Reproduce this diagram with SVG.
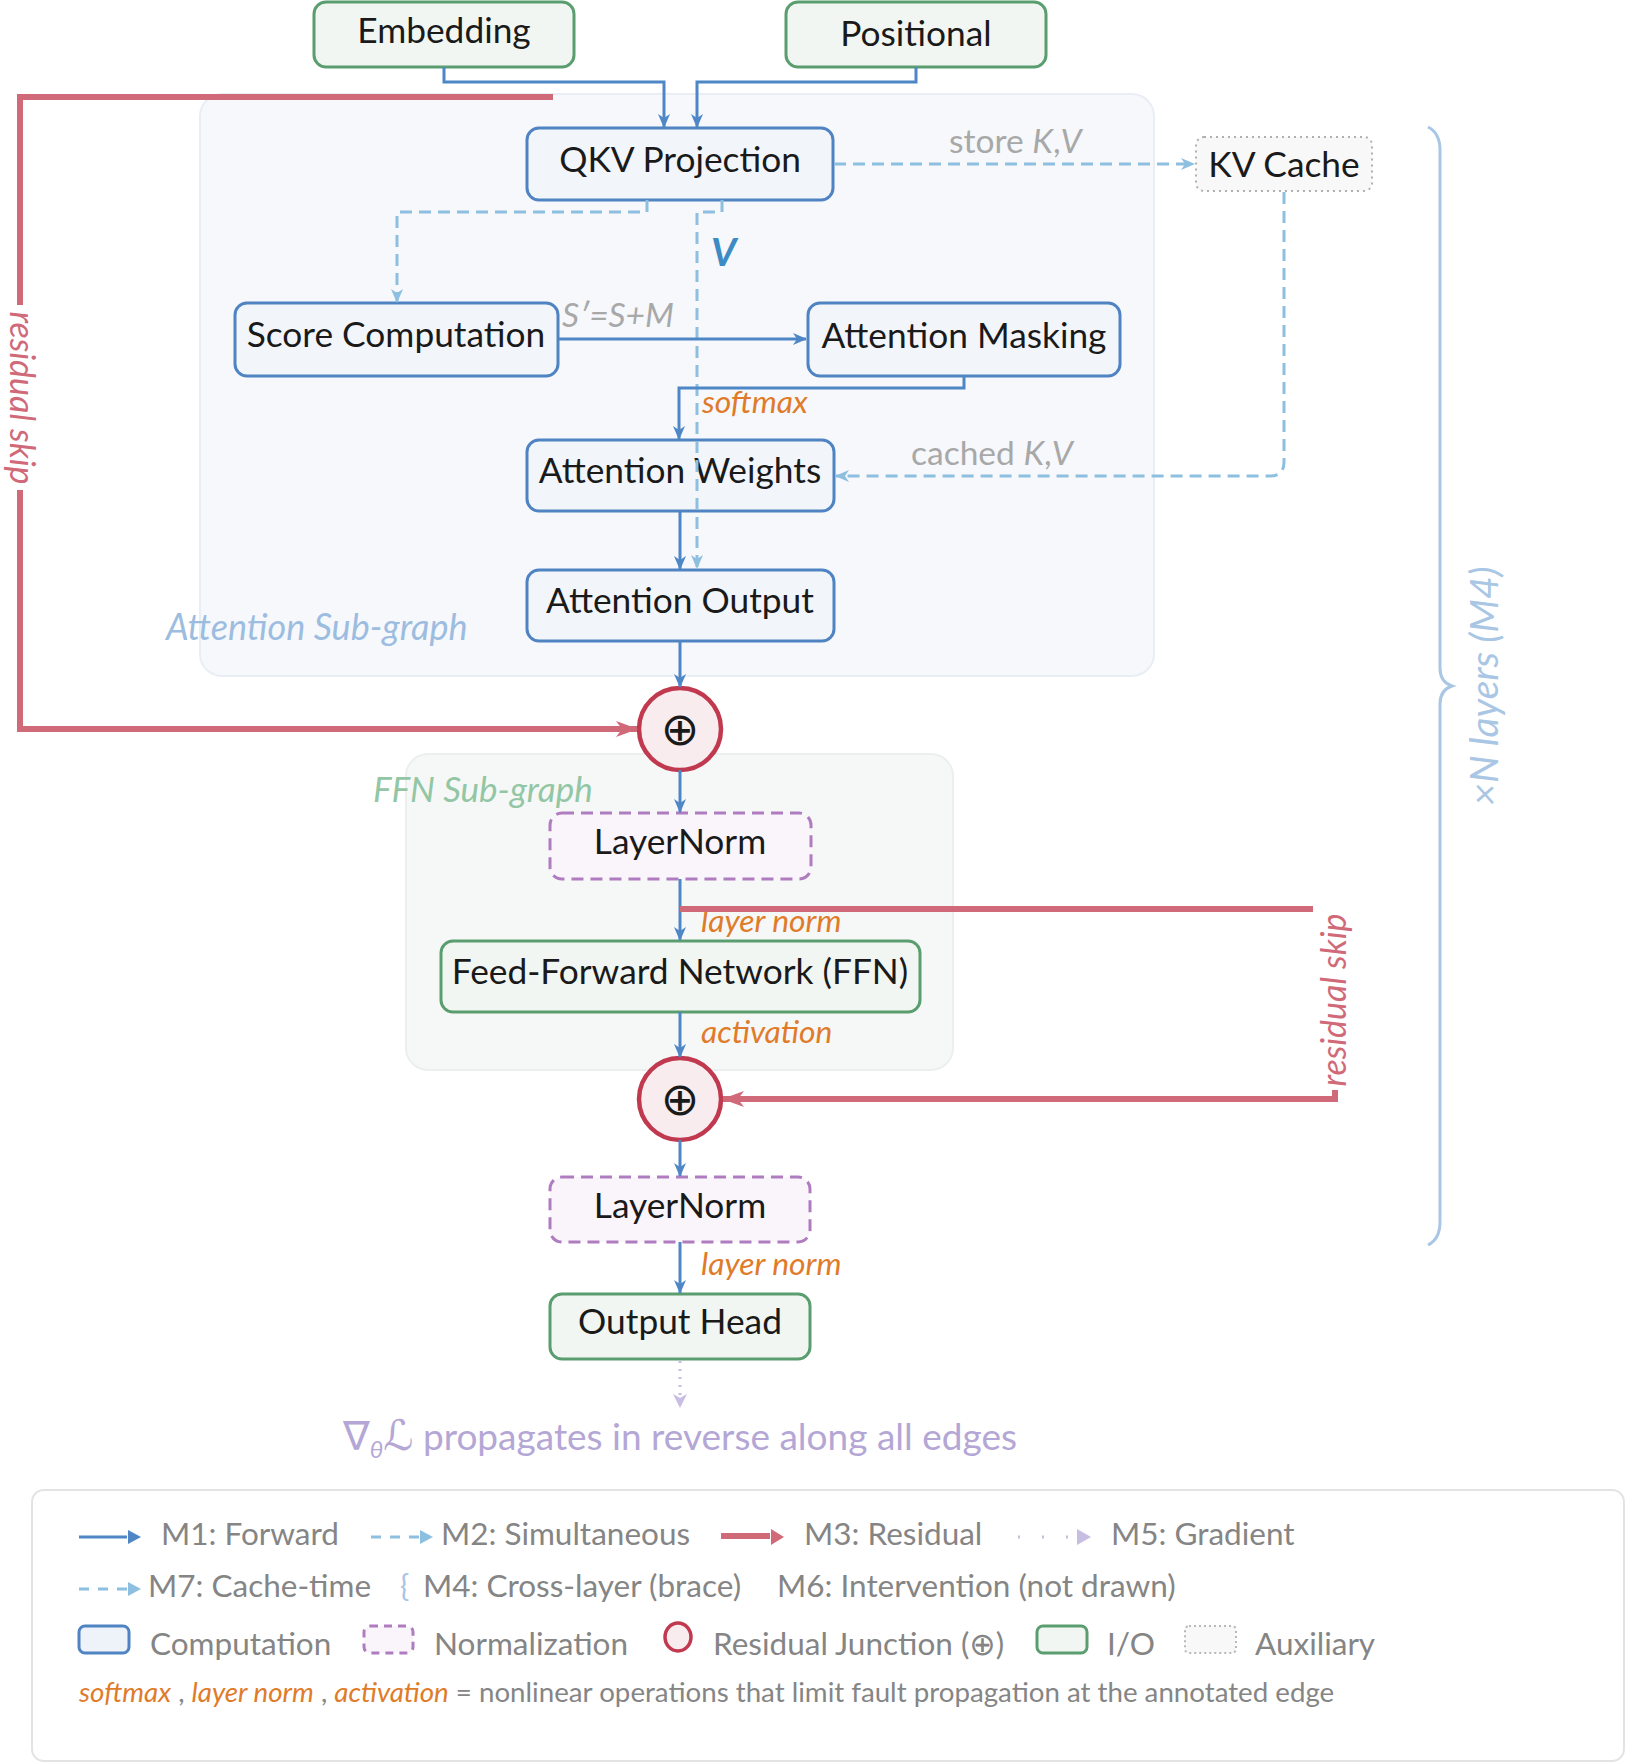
<svg xmlns="http://www.w3.org/2000/svg" width="1627" height="1763" viewBox="0 0 1627 1763">
  <defs>
    <style>
      .lbl { font-family: "Lato", "Liberation Sans", "DejaVu Sans", sans-serif; }
      .node-text { font-size: 35.3px; fill: #1a1a1a; text-anchor: middle; }
      .comp { fill: #f2f6fb; stroke: #4f83c2; stroke-width: 3; }
      .io { fill: #f1f6f2; stroke: #5a9e6f; stroke-width: 3; }
      .norm { fill: #faf5fa; stroke: #b07cc0; stroke-width: 3; stroke-dasharray: 12 7; }
      .aux { fill: #f8f8f8; stroke: #b0b0b0; stroke-width: 2; stroke-dasharray: 2 4; }
      .junc { fill: #f8ecee; stroke: #c0394f; stroke-width: 4.5; }
      .oplus { font-family: "DejaVu Sans", sans-serif; font-size: 46px; fill: #1a1a1a; text-anchor: middle; }
      .fwd { fill: none; stroke: #4f86c6; stroke-width: 3; }
      .sim { fill: none; stroke: #8dbfe0; stroke-width: 3; stroke-dasharray: 12 7; }
      .res { fill: none; stroke: #d06a78; stroke-width: 6; }
      .grad { fill: none; stroke: #c8bde3; stroke-width: 3; stroke-dasharray: 2 6; }
      .nl { font-size: 31.8px; font-style: italic; fill: #e07b2a; }
      .gray { font-size: 33.5px; fill: #a8a8a8; }
      .leg { font-size: 31.5px; fill: #858585; }
    </style>
    <marker id="ahBlue" markerUnits="userSpaceOnUse" markerWidth="14" markerHeight="12" refX="13" refY="6" orient="auto">
      <path d="M0,0 L14,6 L0,12 L4,6 z" fill="#4f86c6"/>
    </marker>
    <marker id="ahLight" markerUnits="userSpaceOnUse" markerWidth="14" markerHeight="12" refX="13" refY="6" orient="auto">
      <path d="M0,0 L14,6 L0,12 L4,6 z" fill="#8dbfe0"/>
    </marker>
    <marker id="ahRed" markerUnits="userSpaceOnUse" markerWidth="22" markerHeight="16" refX="21" refY="8" orient="auto">
      <path d="M0,0 L22,8 L0,16 L6,8 z" fill="#d06a78"/>
    </marker>
    <marker id="ahGrad" markerUnits="userSpaceOnUse" markerWidth="14" markerHeight="14" refX="13" refY="7" orient="auto">
      <path d="M0,0 L14,7 L0,14 L4,7 z" fill="#c8bde3"/>
    </marker>
  </defs>

  <rect width="1627" height="1763" fill="#ffffff"/>

  <!-- sub-graph backgrounds -->
  <g id="attention-subgraph">
    <rect x="200" y="94" width="954" height="582" rx="22" fill="#f6f8fc" stroke="#e9eef5" stroke-width="2"/>
    <text class="lbl" x="166" y="640" font-size="36" font-style="italic" fill="#9dbde0">Attention Sub-graph</text>
  </g>
  <g id="ffn-subgraph">
    <rect x="406" y="754" width="547" height="316" rx="22" fill="#f6f8f7" stroke="#ebefed" stroke-width="2"/>
    <text class="lbl" x="373" y="802" font-size="35" font-style="italic" fill="#93c6a4">FFN Sub-graph</text>
  </g>

  <!-- nodes -->
  <g id="embedding">
    <rect class="io" x="314" y="2" width="260" height="65" rx="12"/>
    <text class="lbl node-text" x="444" y="43">Embedding</text>
  </g>
  <g id="positional">
    <rect class="io" x="786" y="2" width="260" height="65" rx="12"/>
    <text class="lbl node-text" x="916" y="46">Positional</text>
  </g>
  <g id="qkv-projection">
    <rect class="comp" x="527" y="128" width="306" height="72" rx="12"/>
    <text class="lbl node-text" x="680" y="172">QKV Projection</text>
  </g>
  <g id="kv-cache">
    <rect class="aux" x="1196" y="137" width="176" height="54" rx="8"/>
    <text class="lbl node-text" x="1284" y="177">KV Cache</text>
  </g>
  <g id="score-computation">
    <rect class="comp" x="235" y="303" width="323" height="73" rx="12"/>
    <text class="lbl node-text" x="396" y="347">Score Computation</text>
  </g>
  <g id="attention-masking">
    <rect class="comp" x="808" y="303" width="312" height="73" rx="12"/>
    <text class="lbl node-text" x="964" y="348">Attention Masking</text>
  </g>
  <g id="attention-weights">
    <rect class="comp" x="527" y="440" width="307" height="71" rx="12"/>
    <text class="lbl node-text" x="680" y="483">Attention Weights</text>
  </g>
  <g id="attention-output">
    <rect class="comp" x="527" y="570" width="307" height="71" rx="12"/>
    <text class="lbl node-text" x="680" y="613">Attention Output</text>
  </g>
  <g id="junction-1">
    <ellipse class="junc" cx="680" cy="729" rx="41" ry="41"/>
    <text class="oplus" x="680" y="745">⊕</text>
  </g>
  <g id="layernorm-1">
    <rect class="norm" x="550" y="813" width="261" height="66" rx="12"/>
    <text class="lbl node-text" x="680" y="854">LayerNorm</text>
  </g>
  <g id="ffn">
    <rect class="io" x="441" y="941" width="479" height="71" rx="12"/>
    <text class="lbl node-text" x="680" y="984">Feed-Forward Network (FFN)</text>
  </g>
  <g id="junction-2">
    <ellipse class="junc" cx="680" cy="1099" rx="41" ry="41"/>
    <text class="oplus" x="680" y="1115">⊕</text>
  </g>
  <g id="layernorm-2">
    <rect class="norm" x="550" y="1177" width="260" height="65" rx="12"/>
    <text class="lbl node-text" x="680" y="1218">LayerNorm</text>
  </g>
  <g id="output-head">
    <rect class="io" x="550" y="1294" width="260" height="65" rx="12"/>
    <text class="lbl node-text" x="680" y="1334">Output Head</text>
  </g>

  <!-- connectors -->
  <g id="connectors">
    <!-- inputs into QKV -->
    <path class="fwd" d="M444,67 V82 H664 V127" marker-end="url(#ahBlue)"/>
    <path class="fwd" d="M916,67 V82 H697 V127" marker-end="url(#ahBlue)"/>

    <!-- simultaneous Q/K and V branches -->
    <path class="sim" d="M647,200 V212 H397 V302" marker-end="url(#ahLight)"/>
    <path class="sim" d="M722,200 V212 H697 V568" marker-end="url(#ahLight)"/>
    <text class="lbl" x="711" y="266" font-size="39" font-weight="bold" font-style="italic" fill="#3d8bc4">V</text>

    <!-- cache store / read -->
    <path class="sim" d="M834,164 H1194" marker-end="url(#ahLight)"/>
    <text class="lbl gray" x="949" y="153">store <tspan font-style="italic">K</tspan>,<tspan font-style="italic">V</tspan></text>
    <path class="sim" d="M1284,192 V462 Q1284,476 1270,476 H836" marker-end="url(#ahLight)"/>
    <text class="lbl gray" x="911" y="465">cached <tspan font-style="italic">K</tspan>,<tspan font-style="italic">V</tspan></text>

    <!-- attention chain -->
    <path class="fwd" d="M558,339 H806" marker-end="url(#ahBlue)"/>
    <text class="lbl gray" x="562" y="327" font-size="33" font-style="italic">S′=S+M</text>
    <path class="fwd" d="M964,376 V388 H679 V439" marker-end="url(#ahBlue)"/>
    <text class="lbl nl" x="702" y="413">softmax</text>
    <path class="fwd" d="M680,511 V569" marker-end="url(#ahBlue)"/>
    <path class="fwd" d="M680,641 V687" marker-end="url(#ahBlue)"/>

    <!-- FFN chain -->
    <path class="fwd" d="M680,770 V812" marker-end="url(#ahBlue)"/>
    <path class="fwd" d="M680,879 V940" marker-end="url(#ahBlue)"/>
    <text class="lbl nl" x="701" y="932">layer norm</text>
    <path class="fwd" d="M680,1012 V1057" marker-end="url(#ahBlue)"/>
    <text class="lbl nl" x="701" y="1043">activation</text>
    <path class="fwd" d="M680,1140 V1176" marker-end="url(#ahBlue)"/>
    <path class="fwd" d="M680,1242 V1293" marker-end="url(#ahBlue)"/>
    <text class="lbl nl" x="701" y="1275">layer norm</text>

    <!-- gradient -->
    <path class="grad" d="M680,1361 V1407" marker-end="url(#ahGrad)"/>
    <text class="lbl" x="680" y="1450" font-size="37" text-anchor="middle" fill="#b4a7d6"><tspan font-size="40">∇</tspan><tspan font-size="24" dy="8" font-style="italic">θ</tspan><tspan dy="-8" font-size="42" font-style="italic">ℒ</tspan> propagates in reverse along all edges</text>

    <!-- residual skips -->
    <path class="res" d="M553,97 H20 V305"/>
    <path class="res" d="M20,490 V729 H637" marker-end="url(#ahRed)"/>
    <text class="lbl" transform="translate(10,398) rotate(90)" x="0" y="0" font-size="34" font-style="italic" fill="#d06a78" text-anchor="middle">residual skip</text>
    <path class="res" d="M680,909 H1313"/>
    <path class="res" d="M1335,1090 V1099 H723" marker-end="url(#ahRed)"/>
    <text class="lbl" transform="translate(1346,1000) rotate(-90)" x="0" y="0" font-size="34" font-style="italic" fill="#d06a78" text-anchor="middle">residual skip</text>

    <!-- layer brace -->
    <path d="M1428,127 Q1440,133 1440,150 V668 Q1440,682 1452,686 Q1440,690 1440,704 V1222 Q1440,1239 1428,1245" fill="none" stroke="#a9c6e4" stroke-width="3"/>
    <text class="lbl" transform="translate(1498,686) rotate(-90)" x="0" y="0" font-size="39" font-style="italic" fill="#a9c6e4" text-anchor="middle">×N layers (M4)</text>
  </g>

  <!-- legend -->
  <g id="legend">
    <rect x="32" y="1490" width="1592" height="271" rx="12" fill="#ffffff" stroke="#e3e3e3" stroke-width="2"/>

    <line x1="79" y1="1537" x2="127" y2="1537" stroke="#4f86c6" stroke-width="3"/>
    <path d="M128,1530 L141,1537 L128,1544 z" fill="#4f86c6"/>
    <text class="lbl leg" x="161" y="1545">M1: Forward</text>

    <line x1="371" y1="1537" x2="419" y2="1537" stroke="#8dbfe0" stroke-width="3" stroke-dasharray="10 9"/>
    <path d="M420,1530 L433,1537 L420,1544 z" fill="#8dbfe0"/>
    <text class="lbl leg" x="441" y="1545">M2: Simultaneous</text>

    <line x1="721" y1="1536" x2="770" y2="1536" stroke="#d06a78" stroke-width="6"/>
    <path d="M771,1529 L784,1537 L771,1545 z" fill="#d06a78"/>
    <text class="lbl leg" x="804" y="1545">M3: Residual</text>

    <line x1="1018" y1="1537" x2="1075" y2="1537" stroke="#c8bde3" stroke-width="3" stroke-dasharray="2 22"/>
    <path d="M1077,1529 L1091,1537 L1077,1545 z" fill="#c8bde3"/>
    <text class="lbl leg" x="1111" y="1545">M5: Gradient</text>

    <line x1="79" y1="1589" x2="127" y2="1589" stroke="#8dbfe0" stroke-width="3" stroke-dasharray="10 9"/>
    <path d="M128,1582 L141,1589 L128,1596 z" fill="#8dbfe0"/>
    <text class="lbl leg" x="148" y="1597">M7: Cache-time</text>

    <text class="lbl" x="400" y="1597" font-size="31" fill="#a9c6e4">{</text>
    <text class="lbl leg" x="423" y="1597">M4: Cross-layer (brace)</text>
    <text class="lbl leg" x="777" y="1597">M6: Intervention (not drawn)</text>

    <rect x="79" y="1626" width="50" height="27" rx="6" fill="#eef3fa" stroke="#4f83c2" stroke-width="3"/>
    <text class="lbl leg" x="150" y="1655">Computation</text>
    <rect x="364" y="1626" width="49" height="27" rx="6" fill="#faf5fa" stroke="#b07cc0" stroke-width="3" stroke-dasharray="8 6"/>
    <text class="lbl leg" x="434" y="1655">Normalization</text>
    <ellipse cx="678" cy="1637" rx="13" ry="14" fill="#f8ecee" stroke="#c0394f" stroke-width="3.5"/>
    <text class="lbl leg" x="713" y="1655">Residual Junction (⊕)</text>
    <rect x="1037" y="1626" width="50" height="27" rx="6" fill="#f1f6f2" stroke="#5a9e6f" stroke-width="3"/>
    <text class="lbl leg" x="1107" y="1655">I/O</text>
    <rect x="1185" y="1626" width="51" height="27" rx="4" fill="#f8f8f8" stroke="#b8b8b8" stroke-width="2" stroke-dasharray="2 3"/>
    <text class="lbl leg" x="1255" y="1655">Auxiliary</text>

    <text class="lbl" x="79" y="1702" font-size="27.7" fill="#858585"><tspan fill="#e07b2a" font-style="italic">softmax</tspan> , <tspan fill="#e07b2a" font-style="italic">layer norm</tspan> , <tspan fill="#e07b2a" font-style="italic">activation</tspan> = nonlinear operations that limit fault propagation at the annotated edge</text>
  </g>
</svg>
